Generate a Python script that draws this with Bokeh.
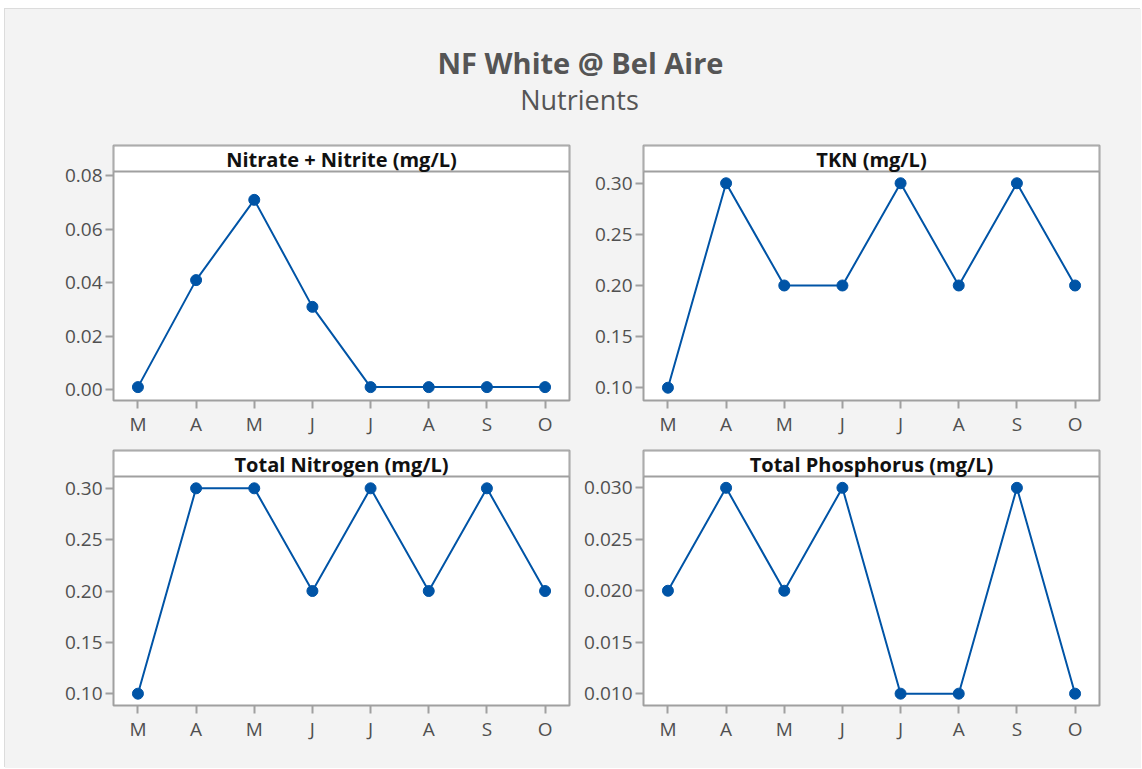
from bokeh.plotting import figure
from bokeh.layouts import column, row
from bokeh.models import Range1d, FixedTicker, PrintfTickFormatter, BoxAnnotation, Label, Spacer
from bokeh.embed import file_html
from bokeh.resources import INLINE
from bokeh.core.properties import value

# ---------------- data ----------------
months = ["M", "A", "M", "J", "J", "A", "S", "O"]
nitrate_nitrite = [0.001, 0.041, 0.071, 0.031, 0.001, 0.001, 0.001, 0.001]
tkn = [0.10, 0.30, 0.20, 0.20, 0.30, 0.20, 0.30, 0.20]
total_nitrogen = [0.10, 0.30, 0.30, 0.20, 0.30, 0.20, 0.30, 0.20]
total_phosphorus = [0.020, 0.030, 0.020, 0.030, 0.010, 0.010, 0.030, 0.010]

panel_titles = ["Nitrate + Nitrite (mg/L)", "TKN (mg/L)",
                "Total Nitrogen (mg/L)", "Total Phosphorus (mg/L)"]
ticks_nitrate = [0.00, 0.02, 0.04, 0.06, 0.08]
ticks_n = [0.10, 0.15, 0.20, 0.25, 0.30]
ticks_p = [0.010, 0.015, 0.020, 0.025, 0.030]

chart_title = "NF White @ Bel Aire"
chart_subtitle = "Nutrients"

# ---------------- style ----------------
FONT = "Open Sans"
BLUE = "#0054A6"
GRAY = "#a0a0a0"
BG = "#f3f3f3"
TICK_TXT = "#505050"
STRIP_PX = 26
DATA_PX = 229
FRAME_W = 456


def panel(title, vals, ticks, fmt, lo, hi, mb_left, mb_right, mb_top, mb_bottom):
    xs = list(range(len(months)))
    x0, x1 = -0.42, len(months) - 1 + 0.42
    y_end = hi + (hi - lo) * STRIP_PX / DATA_PX
    p = figure(frame_width=FRAME_W, frame_height=STRIP_PX + DATA_PX,
               x_range=Range1d(x0, x1), y_range=Range1d(lo, y_end),
               output_backend="svg", toolbar_location=None,
               min_border_left=mb_left, min_border_right=mb_right,
               min_border_top=mb_top, min_border_bottom=mb_bottom)
    p.border_fill_color = BG
    p.background_fill_color = "white"
    p.outline_line_color = GRAY
    p.outline_line_width = 2
    p.xgrid.visible = False
    p.ygrid.visible = False

    p.xaxis.ticker = FixedTicker(ticks=xs)
    p.xaxis.major_label_overrides = {i: m for i, m in enumerate(months)}
    p.yaxis.ticker = FixedTicker(ticks=ticks)
    p.yaxis.formatter = PrintfTickFormatter(format=fmt)
    for ax in (p.xaxis[0], p.yaxis[0]):
        ax.axis_line_color = None
        ax.major_tick_line_color = GRAY
        ax.major_tick_line_width = 2
        ax.major_tick_out = 8
        ax.major_tick_in = 0
        ax.minor_tick_out = 0
        ax.minor_tick_in = 0
        ax.major_label_text_font = FONT
        ax.major_label_text_font_size = "19px"
        ax.major_label_text_color = TICK_TXT
    p.xaxis.major_label_standoff = 2
    p.yaxis.major_label_standoff = 3

    strip = BoxAnnotation(left=x0, right=x1, bottom=hi, top=y_end,
                          fill_color="white", fill_alpha=1.0,
                          line_color=GRAY, line_alpha=1.0, line_width=2,
                          level="underlay")
    p.add_layout(strip)
    p.add_layout(Label(x=(len(months) - 1) / 2, y=hi, y_offset=12, text=title,
                       text_align="center", text_baseline="alphabetic",
                       text_font=FONT, text_font_style="bold",
                       text_font_size="20px", text_color="#111111"))

    p.line(xs, vals, line_color=BLUE, line_width=2)
    p.scatter(xs, vals, size=11, fill_color=BLUE, line_color=BLUE)
    return p


LB, RB1, RB2 = 108, 6, 42
LB2 = 68
p1 = panel(panel_titles[0], nitrate_nitrite, ticks_nitrate, "%.2f", -0.004, 0.0816, LB, RB1, 15, 40)
p2 = panel(panel_titles[1], tkn, ticks_n, "%.2f", 0.0875, 0.3115, LB2, RB2, 15, 40)
p3 = panel(panel_titles[2], total_nitrogen, ticks_n, "%.2f", 0.0885, 0.3115, LB, RB1, 10, 63)
p4 = panel(panel_titles[3], total_phosphorus, ticks_p, "%.3f", 0.00885, 0.0311, LB2, RB2, 10, 63)

TW = LB + FRAME_W + RB1 + LB2 + FRAME_W + RB2
TH = 121
t = figure(width=TW, height=TH, x_range=Range1d(0, TW), y_range=Range1d(0, TH),
           output_backend="svg", toolbar_location=None,
           min_border=0, min_border_left=0, min_border_right=0,
           min_border_top=0, min_border_bottom=0)
t.axis.visible = False
t.grid.visible = False
t.outline_line_color = None
t.border_fill_color = BG
t.background_fill_color = BG
t.text(x=[575], y=[TH - 53.3], text=[chart_title], text_font=value(FONT),
       text_font_style="bold", text_font_size="29px", text_color="#555555",
       text_align="center", text_baseline="alphabetic")
t.text(x=[574], y=[TH - 90.3], text=[chart_subtitle], text_font=value(FONT),
       text_font_size="27px", text_color="#555555",
       text_align="center", text_baseline="alphabetic")

content = column(t, row(p1, p2, styles={"background-color": BG}),
                 row(p3, p4, styles={"background-color": BG}),
                 styles={"background-color": BG,
                         "box-shadow": "-1px -1px 0 #dcdcdc"})
layout = column(Spacer(width=5, height=9), row(Spacer(width=5, height=10), content))

open("out.html", "w").write(file_html(layout, INLINE))
